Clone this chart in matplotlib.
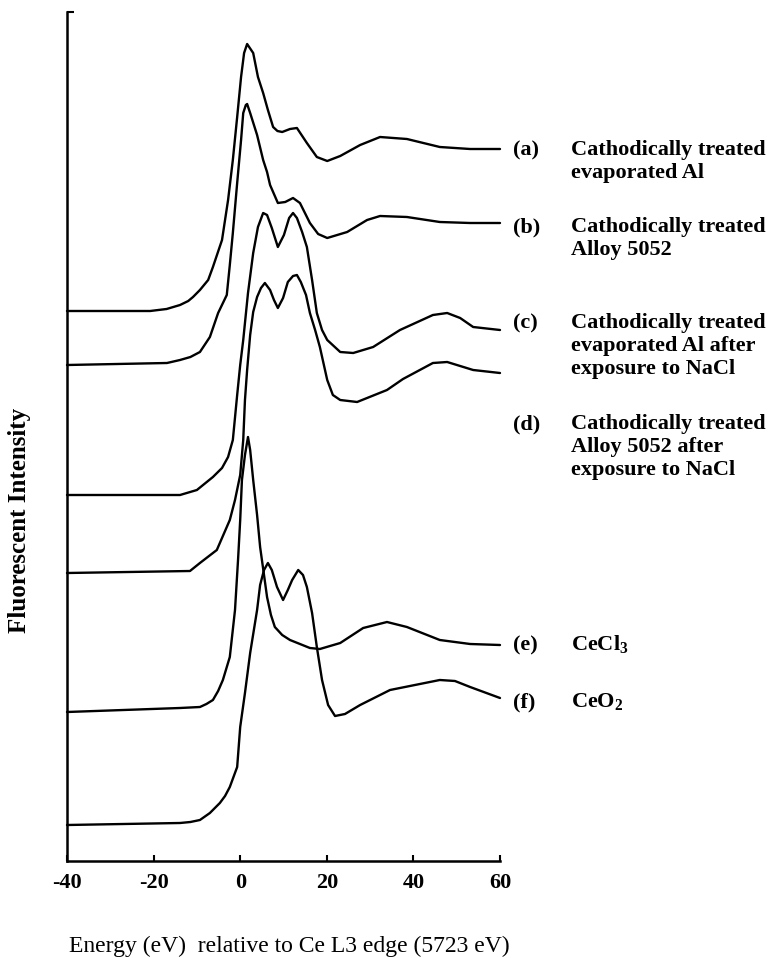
import matplotlib
matplotlib.use("Agg")
import matplotlib.pyplot as plt

plt.rcParams['font.family'] = ['Liberation Serif', 'DejaVu Serif']
plt.rcParams['mathtext.fontset'] = 'custom'
plt.rcParams['mathtext.rm'] = 'Liberation Serif'
plt.rcParams['mathtext.bf'] = 'Liberation Serif:bold'

# Ce L3 XANES spectra, energy relative to edge (eV) and offset intensity (arb.)
e_a = [-40.0, -20.8, -17.0, -13.9, -12.0, -10.9, -9.3, -7.4, -6.3, -4.2, -2.8, -1.7,
       -0.7, 0.2, 0.9, 1.6, 3.0, 4.1, 5.3, 6.4, 7.6, 8.6, 9.7, 11.5, 13.1, 15.4,
       17.7, 20.1, 23.1, 27.7, 32.3, 38.5, 46.1, 53.1, 60.0]
i_a = [55.0, 55.0, 55.2, 55.6, 56.0, 56.4, 57.1, 58.1, 59.4, 62.1, 66.1, 70.1,
       74.4, 78.4, 80.8, 81.7, 80.8, 78.4, 76.8, 75.1, 73.4, 73.0, 72.9, 73.2, 73.3, 71.8,
       70.4, 70.0, 70.5, 71.6, 72.4, 72.2, 71.4, 71.2, 71.2]

e_b = [-40.0, -16.9, -13.9, -11.5, -9.3, -7.0, -5.1, -3.1, -2.4, -1.7, -0.7, 0.2,
       0.7, 1.3, 1.6, 2.3, 3.9, 5.3, 6.2, 6.9, 8.7, 10.4, 12.2, 13.8, 16.1, 18.0,
       20.1, 24.7, 29.3, 32.3, 38.5, 46.1, 53.1, 60.0]
i_b = [49.6, 49.8, 50.1, 50.4, 50.9, 52.4, 54.8, 56.6, 59.6, 62.8, 67.8, 72.1,
       74.8, 75.6, 75.7, 74.8, 72.6, 70.1, 68.9, 67.6, 65.8, 65.9, 66.3, 65.8, 63.8, 62.7,
       62.3, 62.9, 64.1, 64.5, 64.4, 63.9, 63.8, 63.8]

e_c = [-40.0, -13.9, -10.0, -6.3, -4.2, -2.8, -1.7, -0.7, 0.0, 0.7, 1.8, 3.0,
       4.1, 5.3, 6.2, 7.3, 8.7, 10.1, 11.3, 12.2, 13.1, 14.3, 15.4, 16.6, 17.7, 18.9,
       20.1, 23.1, 26.1, 30.7, 36.9, 44.5, 47.8, 50.8, 53.8, 60.0]
i_c = [36.6, 36.6, 37.1, 38.4, 39.3, 40.4, 42.1, 46.6, 49.6, 52.1, 56.8, 60.8,
       63.4, 64.8, 64.6, 63.3, 61.4, 62.6, 64.3, 64.8, 64.3, 62.9, 61.4, 58.1, 54.8, 53.1,
       52.1, 50.9, 50.8, 51.4, 53.1, 54.6, 54.8, 54.3, 53.4, 53.1]

e_d = [-40.0, -11.6, -9.3, -5.4, -2.4, -1.2, 0.0, 0.7, 1.1, 1.6, 2.3, 3.0,
       3.9, 4.8, 5.7, 6.9, 7.8, 8.7, 9.9, 11.0, 12.2, 13.1, 14.0, 15.2, 16.1, 17.3,
       18.4, 20.1, 21.4, 23.1, 27.0, 29.3, 33.9, 37.6, 44.5, 47.8, 50.8, 53.8, 60.0]
i_d = [28.8, 29.0, 29.8, 31.1, 34.1, 36.1, 38.6, 42.1, 46.1, 49.1, 52.6, 54.9,
       56.4, 57.3, 57.8, 57.1, 56.1, 55.3, 56.3, 57.9, 58.5, 58.6, 57.9, 56.6, 54.8, 53.1,
       51.4, 48.1, 46.6, 46.1, 45.9, 46.3, 47.1, 48.2, 49.8, 49.9, 49.5, 49.1, 48.8]

e_e = [-40.0, -13.9, -9.3, -7.8, -6.3, -5.1, -4.0, -2.4, -1.2, -0.5, 0.0, 0.4,
       1.1, 1.8, 2.3, 3.0, 3.9, 4.6, 5.5, 6.2, 7.1, 8.0, 9.7, 11.5, 16.1, 18.4,
       23.1, 28.4, 33.9, 38.5, 46.1, 53.1, 60.0]
i_e = [14.9, 15.3, 15.4, 15.7, 16.1, 17.0, 18.1, 20.4, 25.1, 30.1, 34.1, 38.1,
       40.6, 42.4, 41.1, 38.1, 34.6, 31.4, 28.6, 26.4, 24.6, 23.4, 22.6, 22.1, 21.3, 21.2,
       21.8, 23.3, 23.9, 23.4, 22.1, 21.7, 21.6]

e_f = [-40.0, -13.9, -11.5, -9.3, -7.0, -4.7, -3.5, -2.4, -0.7, 0.0, 1.1, 2.3,
       3.9, 4.6, 5.5, 6.4, 7.3, 8.5, 9.9, 11.0, 12.0, 13.4, 14.5, 15.4, 16.6, 17.7,
       18.9, 20.3, 21.9, 24.2, 27.7, 34.6, 41.5, 46.1, 49.6, 53.1, 60.0]
i_f = [3.6, 3.8, 3.9, 4.1, 4.8, 5.8, 6.5, 7.4, 9.4, 13.4, 16.8, 20.8,
       25.1, 27.6, 29.1, 29.8, 29.1, 27.4, 26.1, 27.1, 28.1, 29.1, 28.6, 27.4, 24.8, 21.4,
       18.1, 15.6, 14.5, 14.7, 15.6, 17.1, 17.7, 18.1, 18.0, 17.4, 16.3]

tags = ['(a)', '(b)', '(c)', '(d)', '(e)', '(f)']
descriptions = [
    ['Cathodically treated', 'evaporated Al'],
    ['Cathodically treated', 'Alloy 5052'],
    ['Cathodically treated', 'evaporated Al after', 'exposure to NaCl'],
    ['Cathodically treated', 'Alloy 5052 after', 'exposure to NaCl'],
    [r'CeCl$_{\mathbf{3}}$'],
    [r'CeO$_{\mathbf{2}}$'],
]
x_ticks = [-40, -20, 0, 20, 40, 60]

W, H = 771, 958
fig = plt.figure(figsize=(W / 100, H / 100), dpi=100)
ax = fig.add_axes([67 / W, 1 - 861 / H, 433 / W, 849 / H])

for e, i in [(e_a, i_a), (e_b, i_b), (e_c, i_c), (e_d, i_d), (e_e, i_e), (e_f, i_f)]:
    ax.plot(e, i, color='black', lw=1.7, solid_joinstyle='round',
            solid_capstyle='round', clip_on=False)

ax.set_xlim(-40, 60)
ax.set_ylim(0, 84.9)
for s in ['top', 'right']:
    ax.spines[s].set_visible(False)
for s in ['left', 'bottom']:
    ax.spines[s].set_linewidth(1.8)

ax.set_xticks(x_ticks)
ax.set_xticklabels([str(t) for t in x_ticks], fontsize=16, fontweight='bold')
ax.tick_params(axis='x', direction='in', length=4, width=1.5, pad=9)
ax.set_yticks([84.9])
ax.set_yticklabels([])
ax.tick_params(axis='y', direction='in', length=5, width=1.5)


def px(x, y):
    return x / W, 1 - y / H


label_y = [150, 227, 323, 424, 645, 702]
for tag, lines, y in zip(tags, descriptions, label_y):
    fig.text(*px(513, y), tag, fontsize=16, fontweight='bold', va='center', ha='left')
    for k, line in enumerate(lines):
        fig.text(*px(571, y + 23 * k), line, fontsize=16, fontweight='bold',
                 va='center', ha='left')

fig.text(*px(20, 520), 'Fluorescent Intensity', rotation=90, fontsize=18,
         fontweight='bold', va='center', ha='center')
fig.text(*px(289, 946), 'Energy (eV)  relative to Ce L3 edge (5723 eV)',
         fontsize=17, va='center', ha='center')

fig.savefig('out.png', dpi=100)
